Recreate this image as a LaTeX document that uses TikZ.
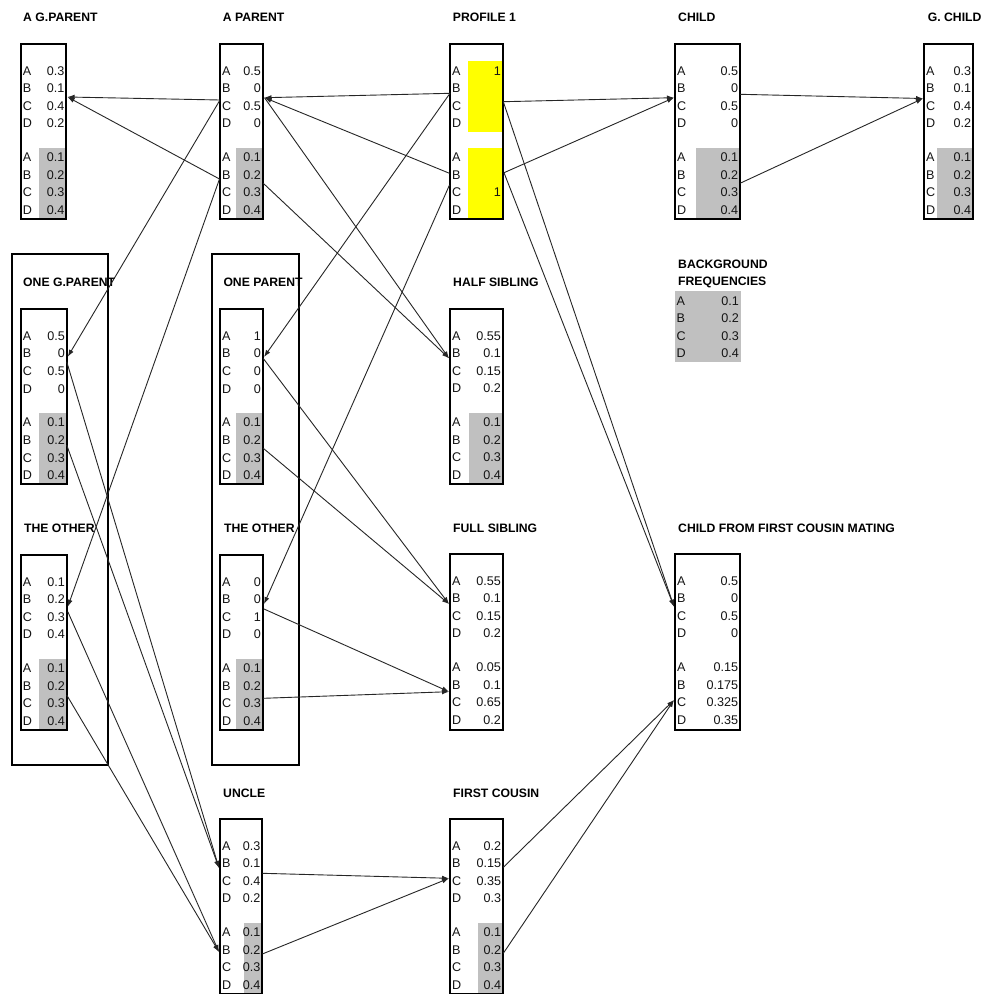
\documentclass[tikz,border=0pt]{standalone}
\usepackage{fontspec}
\setmainfont{Liberation Sans}
\usetikzlibrary{arrows.meta}
\definecolor{cellgray}{HTML}{C0C0C0}
\definecolor{cellyellow}{HTML}{FFFF00}
\definecolor{linegray}{HTML}{262626}
\definecolor{txt}{HTML}{141414}
\tikzset{
  frame/.style={draw=black, line width=2pt, inner sep=0pt, outer sep=0pt},
  outerframe/.style={draw=black, line width=1.8pt, inner sep=0pt, outer sep=0pt},
  title/.style={anchor=west, inner sep=0pt, text=black, font=\fontsize{12.2}{14}\selectfont\bfseries},
  lett/.style={anchor=west, inner sep=0pt, text=txt, font=\fontsize{12.6}{14}\selectfont},
  val/.style={anchor=east, inner sep=0pt, text=txt, font=\fontsize{12.6}{14}\selectfont},
  link/.style={draw=linegray, line width=0.9pt, -{Latex[length=7pt,width=5pt]}},
}
% box frame: name, left, right, top, bottom
\newcommand\pbox[5]{\node[frame, minimum width={(#3-#2)*1pt}, minimum height={(#5-#4)*1pt}] (#1) at ({(#2+#3)/2},{(#4+#5)/2}) {};}
\newcommand\obox[5]{\node[outerframe, minimum width={(#3-#2)*1pt}, minimum height={(#5-#4)*1pt}] (#1) at ({(#2+#3)/2},{(#4+#5)/2}) {};}
% group of rows: name, left, right, yA, v1..v4
\newcommand\grp[8]{%
  \node[lett] (#1a) at ({#2+2},{#4}) {A};
  \node[lett] (#1b) at ({#2+2},{#4+17.6}) {B};
  \node[lett] (#1c) at ({#2+2},{#4+35.2}) {C};
  \node[lett] (#1d) at ({#2+2},{#4+52.8}) {D};
  \node[val] (#1va) at ({#3-1.6},{#4}) {#5};
  \node[val] (#1vb) at ({#3-1.6},{#4+17.6}) {#6};
  \node[val] (#1vc) at ({#3-1.6},{#4+35.2}) {#7};
  \node[val] (#1vd) at ({#3-1.6},{#4+52.8}) {#8};
}
\begin{document}
\begin{tikzpicture}[x=1pt,y=-1pt]
\useasboundingbox (0,0) rectangle (981,994);
\fill[white] (0,0) rectangle (981,994);

% ---------- fills ----------
\fill[cellgray] (39,148) rectangle (66.3,219);
\fill[cellgray] (236,148) rectangle (262.7,219);
\fill[cellyellow] (468,61) rectangle (502.7,132);
\fill[cellyellow] (468,148) rectangle (502.7,219);
\fill[cellgray] (695.7,148) rectangle (740,219);
\fill[cellgray] (936.7,148) rectangle (973,219);
\fill[cellgray] (39,413.3) rectangle (66.7,484.3);
\fill[cellgray] (236,413.3) rectangle (262.7,484.3);
\fill[cellgray] (469,413) rectangle (502.7,484);
\fill[cellgray] (39,659) rectangle (66.7,730);
\fill[cellgray] (236,659) rectangle (262.7,730);
\fill[cellgray] (244.3,923) rectangle (262.3,994);
\fill[cellgray] (477.7,923) rectangle (503,994);
\fill[cellgray] (675,291) rectangle (740.7,361.7);

% ---------- outer boxes ----------
\obox{ogbig}{11.7}{108.3}{254.3}{765}
\obox{opbig}{211.7}{299}{254.3}{765}

% ---------- boxes ----------
\pbox{agp}{20.7}{66.3}{44}{219}
\pbox{ap}{220}{262.7}{44}{219}
\pbox{pr}{450}{502.7}{44}{219}
\pbox{ch}{675}{740}{44}{219}
\pbox{gc}{924}{973}{44}{219}
\pbox{og}{20.7}{66.7}{309.3}{484.3}
\pbox{op}{220}{262.7}{309.3}{484.3}
\pbox{hs}{450}{502.7}{309}{484}
\pbox{to}{20.7}{66.7}{555}{730}
\pbox{tp}{220}{262.7}{555}{730}
\pbox{fs}{450}{502.7}{554}{730}
\pbox{cf}{675}{740}{554}{730}
\pbox{un}{220}{262.3}{819}{993.5}
\pbox{fc}{450}{503}{819}{993.5}

% ---------- table texts ----------
\grp{agp1}{20.7}{66.3}{70.7}{0.3}{0.1}{0.4}{0.2}
\grp{agp2}{20.7}{66.3}{157.3}{0.1}{0.2}{0.3}{0.4}
\grp{ap1}{220}{262.7}{70.7}{0.5}{0}{0.5}{0}
\grp{ap2}{220}{262.7}{157.3}{0.1}{0.2}{0.3}{0.4}
\grp{pr1}{450}{502.7}{70.7}{1}{}{}{}
\grp{pr2}{450}{502.7}{157.3}{}{}{1}{}
\grp{ch1}{675}{740}{70.7}{0.5}{0}{0.5}{0}
\grp{ch2}{675}{740}{157.3}{0.1}{0.2}{0.3}{0.4}
\grp{gc1}{924}{973}{70.7}{0.3}{0.1}{0.4}{0.2}
\grp{gc2}{924}{973}{157.3}{0.1}{0.2}{0.3}{0.4}
\grp{og1}{20.7}{66.7}{336}{0.5}{0}{0.5}{0}
\grp{og2}{20.7}{66.7}{422.6}{0.1}{0.2}{0.3}{0.4}
\grp{op1}{220}{262.7}{336}{1}{0}{0}{0}
\grp{op2}{220}{262.7}{422.6}{0.1}{0.2}{0.3}{0.4}
\grp{hs1}{450}{502.7}{335.7}{0.55}{0.1}{0.15}{0.2}
\grp{hs2}{450}{502.7}{422.3}{0.1}{0.2}{0.3}{0.4}
\grp{to1}{20.7}{66.7}{581.7}{0.1}{0.2}{0.3}{0.4}
\grp{to2}{20.7}{66.7}{668.3}{0.1}{0.2}{0.3}{0.4}
\grp{tp1}{220}{262.7}{581.7}{0}{0}{1}{0}
\grp{tp2}{220}{262.7}{668.3}{0.1}{0.2}{0.3}{0.4}
\grp{fs1}{450}{502.7}{580.7}{0.55}{0.1}{0.15}{0.2}
\grp{fs2}{450}{502.7}{667.3}{0.05}{0.1}{0.65}{0.2}
\grp{cf1}{675}{740}{580.7}{0.5}{0}{0.5}{0}
\grp{cf2}{675}{740}{667.3}{0.15}{0.175}{0.325}{0.35}
\grp{un1}{220}{262.3}{845.7}{0.3}{0.1}{0.4}{0.2}
\grp{un2}{220}{262.3}{932.3}{0.1}{0.2}{0.3}{0.4}
\grp{fc1}{450}{503}{845.7}{0.2}{0.15}{0.35}{0.3}
\grp{fc2}{450}{503}{932.3}{0.1}{0.2}{0.3}{0.4}
\grp{bf}{674.5}{740.7}{300.7}{0.1}{0.2}{0.3}{0.4}

% ---------- titles ----------
\node[title] (t-agp) at (23,17) {A G.PARENT};
\node[title] (t-ap) at (222.7,17) {A PARENT};
\node[title] (t-pr) at (452.7,17) {PROFILE 1};
\node[title] (t-ch) at (678,17) {CHILD};
\node[title] (t-gc) at (927.7,17) {G. CHILD};
\node[title] (t-og) at (23,282) {ONE G.PARENT};
\node[title] (t-op) at (223.3,282) {ONE PARENT};
\node[title] (t-hs) at (453,282) {HALF SIBLING};
\node[title] (t-bg1) at (678,264) {BACKGROUND};
\node[title] (t-bg2) at (678,282) {FREQUENCIES};
\node[title] (t-to) at (24,528) {THE OTHER};
\node[title] (t-tp) at (224,528) {THE OTHER};
\node[title] (t-fs) at (453,528) {FULL SIBLING};
\node[title] (t-cf) at (678,528) {CHILD FROM FIRST COUSIN MATING};
\node[title] (t-un) at (223,793) {UNCLE};
\node[title] (t-fc) at (453,793) {FIRST COUSIN};

% ---------- ports ----------
\coordinate (agp-in) at (67.5,97);
\coordinate (ap-in) at (264.5,97.7);
\coordinate (ap-l1) at (220,100);
\coordinate (ap-l2) at (219.5,179);
\coordinate (ap-r2) at (263.3,183.3);
\coordinate (pr-l1) at (450,93.3);
\coordinate (pr-l2) at (449.5,173.3);
\coordinate (pr-l3) at (449.5,185);
\coordinate (pr-r1) at (503.3,101.7);
\coordinate (pr-r2) at (504,172.7);
\coordinate (ch-in) at (674,97.7);
\coordinate (ch-r1) at (740,94.3);
\coordinate (ch-r2) at (740,183.3);
\coordinate (gc-in) at (923,98.5);
\coordinate (og-in) at (67.8,356.7);
\coordinate (og-r1) at (66.7,361.7);
\coordinate (og-r2) at (66.7,445);
\coordinate (to-in) at (67.8,606.7);
\coordinate (to-r1) at (67.8,611.7);
\coordinate (to-r2) at (66.7,695);
\coordinate (op-in) at (264,357);
\coordinate (op-r1) at (263.3,358.5);
\coordinate (op-r2) at (263.3,448.3);
\coordinate (tp-in) at (264,604);
\coordinate (tp-r1) at (264,609);
\coordinate (tp-r2) at (263.3,698.3);
\coordinate (hs-in) at (449,358.3);
\coordinate (fs-in1) at (449,604);
\coordinate (fs-in2) at (449,691.7);
\coordinate (cf-in1) at (674,606.7);
\coordinate (cf-in2) at (674,700);
\coordinate (un-in1) at (219,868);
\coordinate (un-in2) at (219,952);
\coordinate (un-r1) at (262.3,873.3);
\coordinate (un-r2) at (262.3,954);
\coordinate (fc-in) at (449,878.3);
\coordinate (fc-r1) at (503.3,867.3);
\coordinate (fc-r2) at (503.3,953.3);

% ---------- connectors ----------
\draw[link] (ap-l1) -- (agp-in);
\draw[link] (ap-l2) -- (agp-in);
\draw[link] (ap-l1) -- (og-in);
\draw[link] (ap-l2) -- (to-in);
\draw[link] (pr-l1) -- (ap-in);
\draw[link] (pr-l2) -- (ap-in);
\draw[link] (pr-l1) -- (op-in);
\draw[link] (pr-l3) -- (tp-in);
\draw[link] (pr-r1) -- (ch-in);
\draw[link] (pr-r2) -- (ch-in);
\draw[link] (ch-r1) -- (gc-in);
\draw[link] (ch-r2) -- (gc-in);
\draw[link] (pr-r1) -- (cf-in1);
\draw[link] (pr-r2) -- (cf-in1);
\draw[link] (ap-in) -- (hs-in);
\draw[link] (ap-r2) -- (hs-in);
\draw[link] (op-r1) -- (fs-in1);
\draw[link] (op-r2) -- (fs-in1);
\draw[link] (tp-r1) -- (fs-in2);
\draw[link] (tp-r2) -- (fs-in2);
\draw[link] (og-r1) -- (un-in1);
\draw[link] (og-r2) -- (un-in1);
\draw[link] (to-r1) -- (un-in2);
\draw[link] (to-r2) -- (un-in2);
\draw[link] (un-r1) -- (fc-in);
\draw[link] (un-r2) -- (fc-in);
\draw[link] (fc-r1) -- (cf-in2);
\draw[link] (fc-r2) -- (cf-in2);
\end{tikzpicture}
\end{document}
